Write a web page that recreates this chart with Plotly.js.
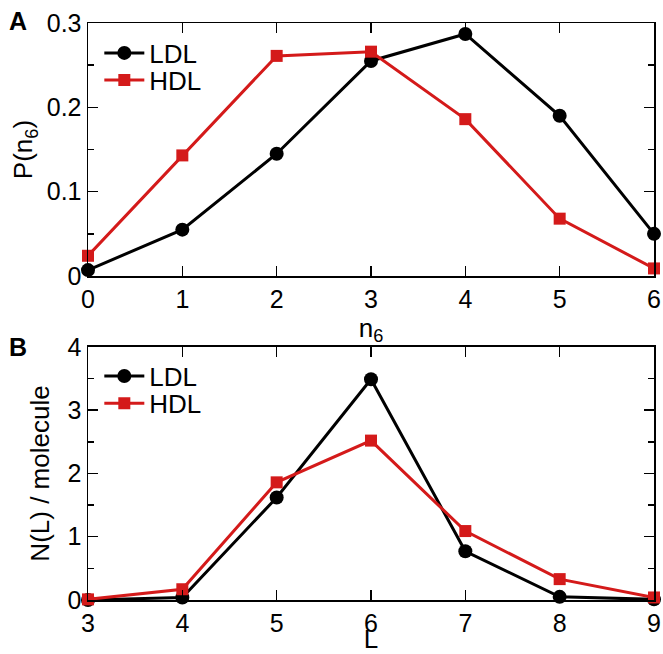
<!DOCTYPE html>
<html>
<head>
<meta charset="utf-8">
<script src="https://cdn.plot.ly/plotly-3.0.1.min.js"></script>
<style>html,body{margin:0;padding:0;background:#fff;}</style>
</head>
<body>
<div id="chart" style="width:663px;height:654px;"></div>
<script>
// Panel A: distribution of n6
const n6 = [0, 1, 2, 3, 4, 5, 6];
const ldlP = [0.007, 0.055, 0.145, 0.255, 0.287, 0.190, 0.050];
const hdlP = [0.024, 0.143, 0.261, 0.266, 0.186, 0.068, 0.009];
// Panel B: ring statistics
const ringL = [3, 4, 5, 6, 7, 8, 9];
const ldlN = [0.0, 0.04, 1.62, 3.49, 0.77, 0.05, 0.01];
const hdlN = [0.01, 0.17, 1.86, 2.52, 1.09, 0.33, 0.04];
const seriesNames = ['LDL', 'HDL'];

const black = '#000000';
const red = '#d41a1a';
const FONT = 'Liberation Sans, Arial, Helvetica, sans-serif';
const FS = 25;   // tick labels
const FT = 26;   // titles and legend

function tr(x, y, name, color, symbol, size, xa, ya, leg) {
  return {
    x: x, y: y, name: name, type: 'scatter', mode: 'lines+markers',
    xaxis: xa, yaxis: ya, legend: leg, cliponaxis: false, showlegend: true,
    line: {color: color, width: 3},
    marker: {color: color, symbol: symbol, size: size}
  };
}

const data = [
  tr(n6, ldlP, seriesNames[0], black, 'circle', 14, 'x', 'y', 'legend'),
  tr(n6, hdlP, seriesNames[1], red, 'square', 12, 'x', 'y', 'legend2'),
  tr(ringL, ldlN, seriesNames[0], black, 'circle', 14, 'x2', 'y2', 'legend3'),
  tr(ringL, hdlN, seriesNames[1], red, 'square', 12, 'x2', 'y2', 'legend4')
];

function xax(range, anchor, title) {
  return {
    range: range, dtick: 1, anchor: anchor, showgrid: false, zeroline: false,
    showline: true, linecolor: '#000', linewidth: 1.5, mirror: 'ticks',
    ticks: 'inside', ticklen: 10, tickwidth: 1.5, tickcolor: '#000',
    tickfont: {family: FONT, size: FS, color: '#000'},
    title: {text: title, font: {family: FONT, size: FT, color: '#000'}, standoff: 0}
  };
}
function yax(range, dtick, minor, domain, anchor, title, standoff) {
  return {
    range: range, dtick: dtick, domain: domain, anchor: anchor, showgrid: false, zeroline: false,
    showline: true, linecolor: '#000', linewidth: 1.5, mirror: 'ticks',
    ticks: 'inside', ticklen: 10, tickwidth: 1.5, tickcolor: '#000',
    minor: {dtick: minor, ticks: 'inside', ticklen: 6, tickwidth: 1.5, tickcolor: '#000', showgrid: false},
    tickfont: {family: FONT, size: FS, color: '#000'},
    title: {text: title, font: {family: FONT, size: FT, color: '#000'}, standoff: standoff}
  };
}
function leg(y) {
  return {x: 0.02, y: y, xanchor: 'left', yanchor: 'middle', bgcolor: 'rgba(0,0,0,0)',
          font: {family: FONT, size: FT, color: '#000'}, itemwidth: 40, visible: true};
}

const layout = {
  width: 663, height: 654,
  margin: {l: 88, r: 9, t: 23, b: 54},
  showlegend: true,
  paper_bgcolor: '#fff', plot_bgcolor: '#fff',
  font: {family: FONT, size: FS, color: '#000'},
  xaxis: xax([0, 6], 'y', 'n<sub>6</sub>'),
  yaxis: yax([0, 0.3], 0.1, 0.05, [0.5615, 1], 'x', 'P(n<sub>6</sub>)', 6),
  xaxis2: xax([3, 9], 'y2', 'L'),
  yaxis2: yax([0, 4], 1, 0.5, [0, 0.4385], 'x2', 'N(L) / molecule', 10),
  legend: leg(0.948),
  legend2: leg(0.901),
  legend3: leg(0.388),
  legend4: leg(0.341),
  annotations: [
    {text: '<b>A</b>', xref: 'paper', yref: 'paper', x: -0.143, y: 1.003, xanchor: 'left', yanchor: 'middle', showarrow: false, font: {family: FONT, size: FS}},
    {text: '<b>B</b>', xref: 'paper', yref: 'paper', x: -0.143, y: 0.4385, xanchor: 'left', yanchor: 'middle', showarrow: false, font: {family: FONT, size: FS}}
  ]
};

Plotly.newPlot('chart', data, layout, {displayModeBar: false, staticPlot: true});
</script>
</body>
</html>
